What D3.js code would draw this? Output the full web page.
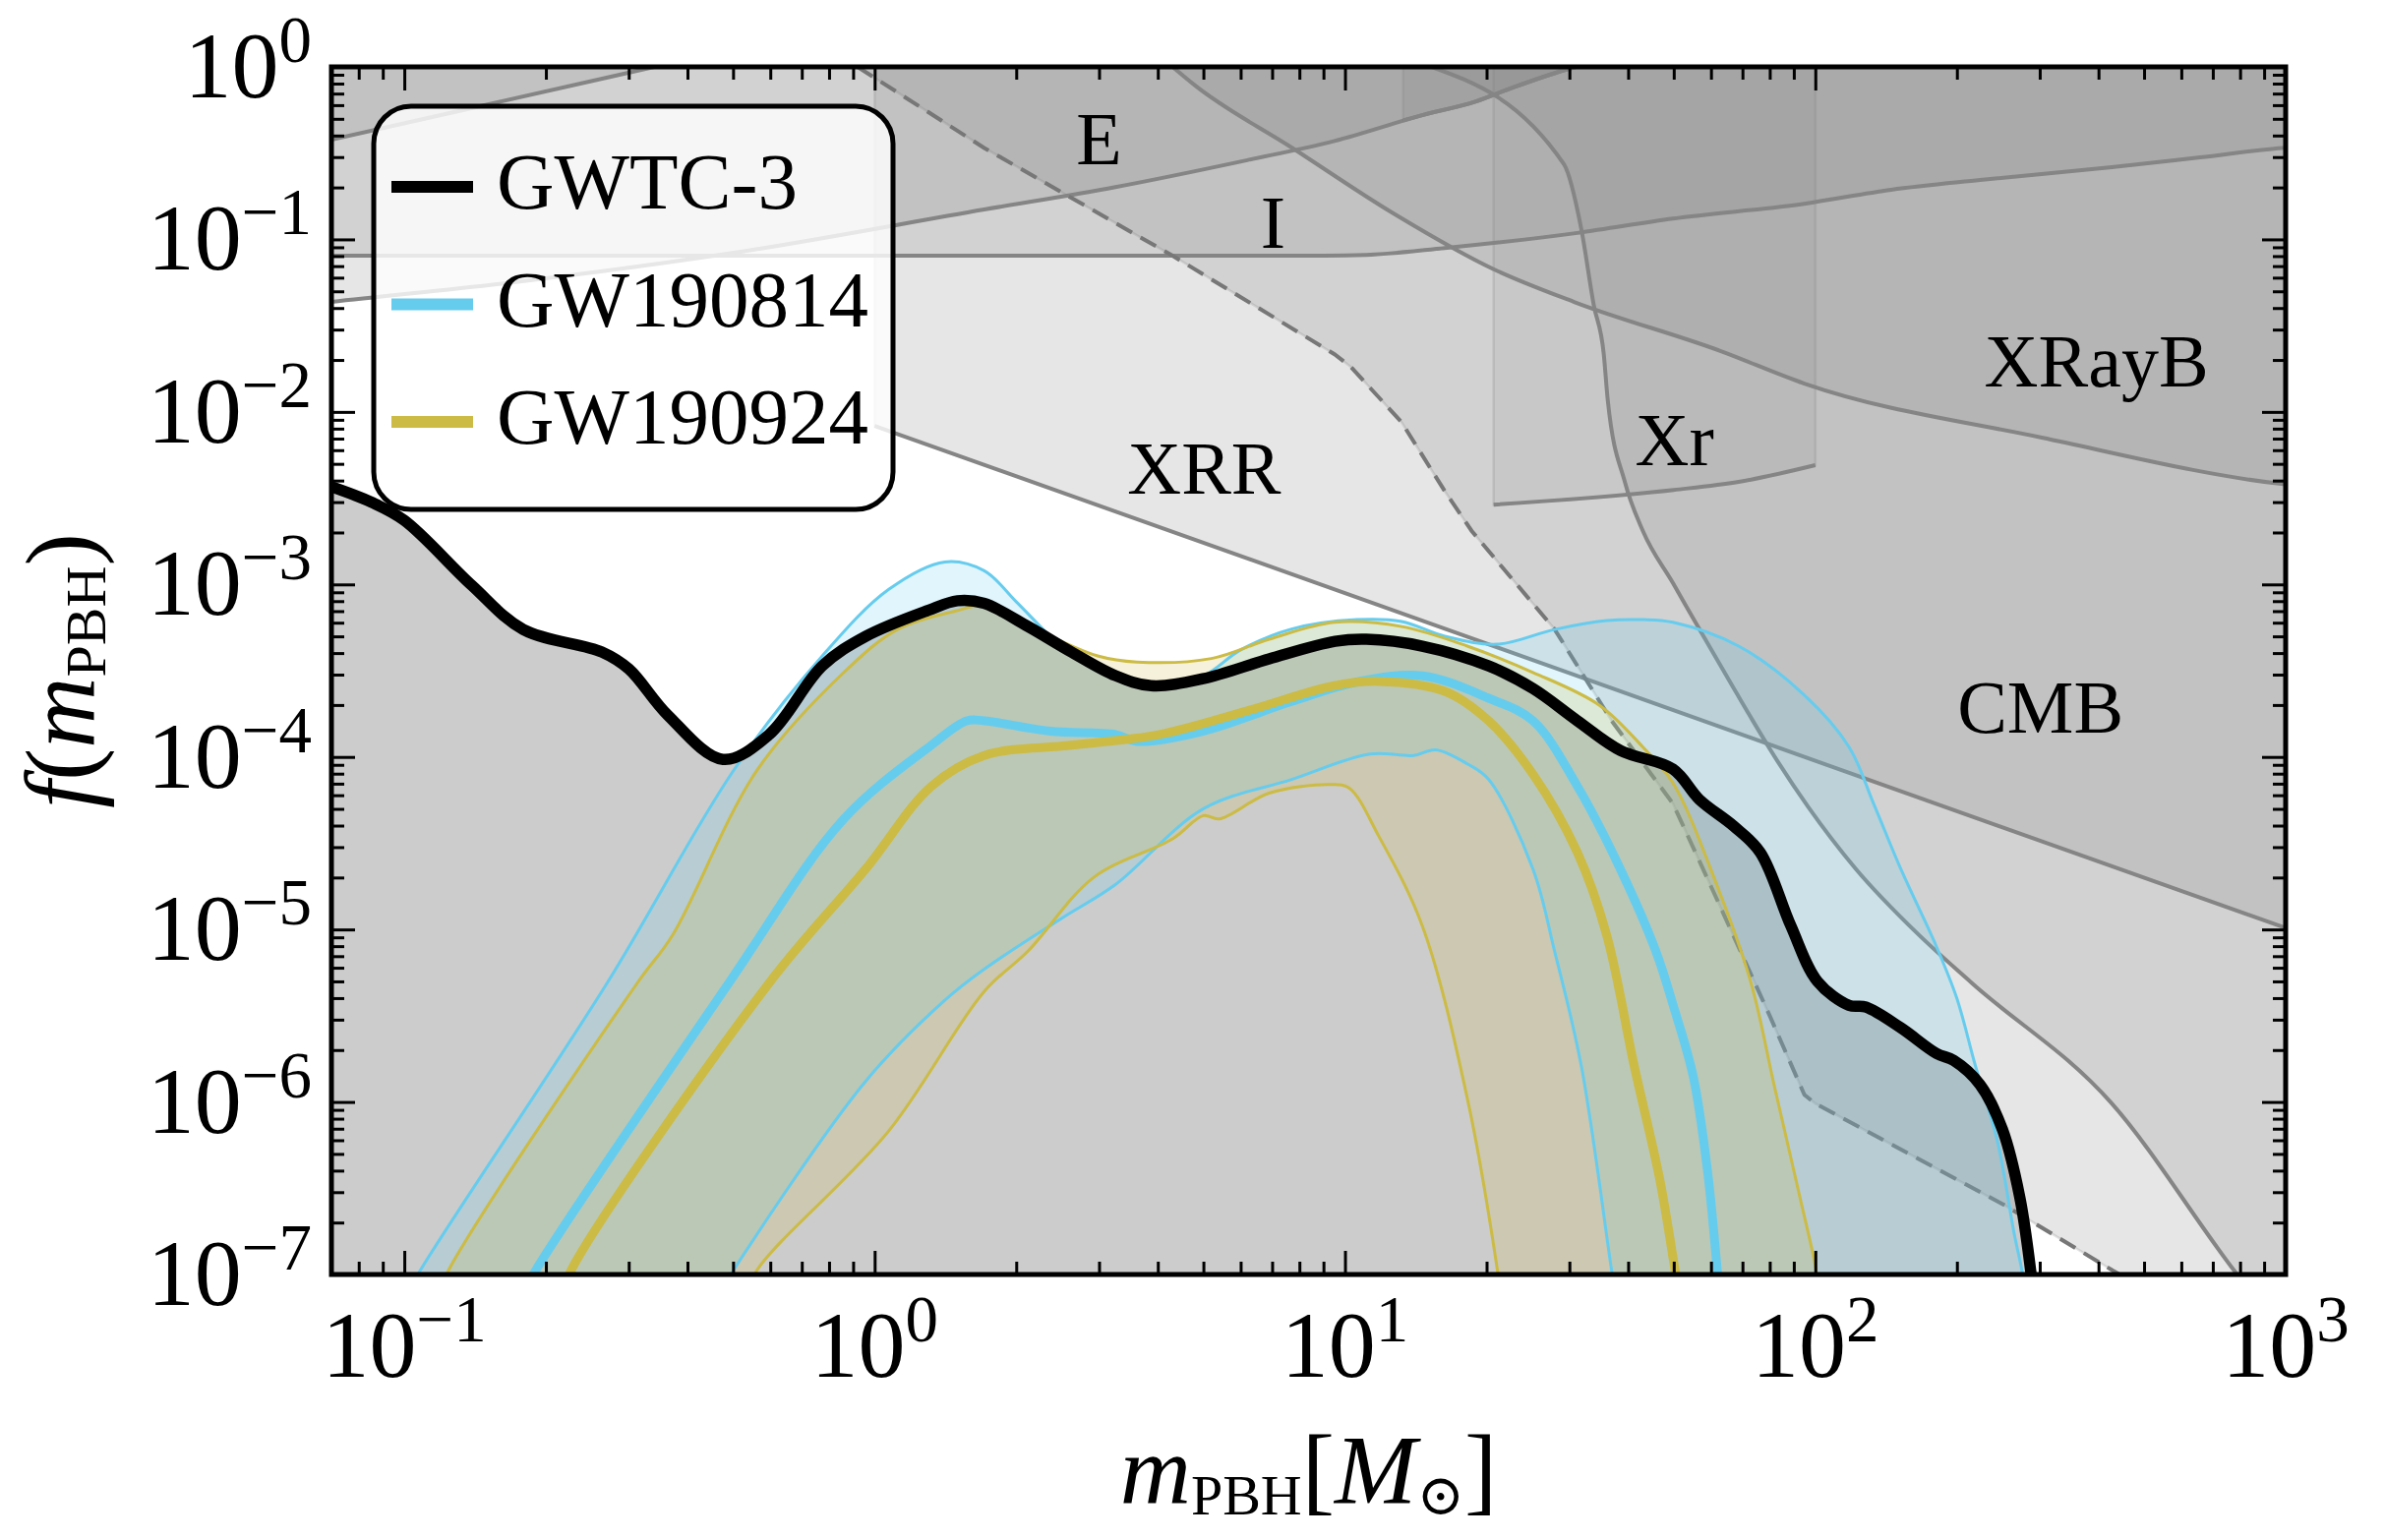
<!DOCTYPE html>
<html><head><meta charset="utf-8">
<script src="https://d3js.org/d3.v7.min.js"></script>
<style>body{margin:0;background:#fff}svg{display:block}</style>
</head><body>
<svg id="chart" width="2424" height="1566"></svg>
<script>
// ---------------- data ----------------
const xTickMajor = [0.1, 1, 10, 100, 1000];
const xTickExp = ["−1", "0", "1", "2", "3"];
const yTickMajor = [1e-7, 1e-6, 1e-5, 1e-4, 1e-3, 1e-2, 1e-1, 1];
const yTickExp = ["−7", "−6", "−5", "−4", "−3", "−2", "−1", "0"];

const legendLabels = ["GWTC-3", "GW190814", "GW190924"];

// GWTC-3 upper bound
const gwtc3M = [0.07,0.085,0.1,0.139,0.179,0.263,0.30,0.363,0.476,0.597,0.774,0.957,1.3,1.5,1.71,2.12,2.62,3.25,3.87,4.99,6.9,9.53,11.1,14.6,20.2,25.1,31.2,38.5,49.8,56.7,67,76.4,88.7,101,118,128,152,181,197,224,250,272,287,295];
const gwtc3F = [3.68e-3,3.0e-3,2.35e-3,9.9e-4,5.48e-4,4.06e-4,3.24e-4,1.75e-4,9.68e-5,1.35e-4,3.37e-4,5.0e-4,7.08e-4,8.04e-4,7.76e-4,5.70e-4,4.06e-4,2.96e-4,2.59e-4,2.84e-4,3.70e-4,4.68e-4,4.81e-4,4.39e-4,3.37e-4,2.49e-4,1.62e-4,1.09e-4,8.51e-5,5.66e-5,3.98e-5,2.79e-5,1.05e-5,5.01e-6,3.63e-6,3.55e-6,2.69e-6,1.91e-6,1.74e-6,1.26e-6,6.92e-7,2.82e-7,1.05e-7,5e-8];

// GW190814: upper, median, lower
const gw814UpM = [0.1,0.108,0.27,0.502,0.774,1.07,1.41,1.71,2.0,2.36,2.62,3.25,3.9,5.0,6.0,7.67,10.6,13.2,16.3,21.1,27.9,36,43,49.8,68.7,94.8,118,133,152,181,200,219,244,265,275,282];
const gw814UpF = [7.1e-8,1.05e-7,4.9e-6,8.4e-5,3.85e-4,9.33e-4,1.35e-3,1.2e-3,7.94e-4,5.01e-4,3.89e-4,2.82e-4,2.51e-4,2.95e-4,4.17e-4,5.5e-4,6.25e-4,6.1e-4,5.01e-4,4.5e-4,5.48e-4,6.17e-4,6.25e-4,6.03e-4,4.39e-4,2.28e-4,1.14e-4,5.37e-5,2.24e-5,7.94e-6,3.98e-6,1.62e-6,5.89e-7,1.7e-7,1.05e-7,6.3e-8];
const gw814MedM = [0.18,0.19,0.49,0.86,1.32,1.57,1.71,2.36,3.25,3.61,4.99,7.67,10.6,14.6,20.2,25.1,31.2,38.5,45.8,50,55,59,62,63];
const gw814MedF = [7.9e-8,1.05e-7,4.9e-6,4.37e-5,1.17e-4,1.62e-4,1.62e-4,1.41e-4,1.35e-4,1.23e-4,1.41e-4,2.09e-4,2.72e-4,2.95e-4,2.19e-4,1.62e-4,6.76e-5,2.24e-5,7.5e-6,3.55e-6,1.41e-6,3.98e-7,1.0e-7,6.3e-8];
const gw814LoM = [0.47,0.50,0.957,1.41,1.71,2.51,3.25,5.0,7.7,11.3,14.0,15.6,18.2,20.2,25.1,27.9,31.8,36.9,38];
const gw814LoF = [7.9e-8,1.05e-7,1.32e-6,3.89e-6,5.89e-6,1.17e-5,1.82e-5,5.01e-5,7.41e-5,1.04e-4,1.02e-4,1.1e-4,9.12e-5,7.41e-5,2.24e-5,7.5e-6,1.62e-6,1.05e-7,6.3e-8];

// GW190924: upper, median, lower
const gw924UpM = [0.115,0.124,0.313,0.372,0.561,0.86,1.12,1.48,1.71,2.36,2.98,3.61,5.2,6.9,9.5,13.2,18.2,25.1,34.7,43,49.8,61.7,73,81.7,92.7,100,103];
const gw924UpF = [6.3e-8,1.05e-7,4.9e-6,9.3e-6,8.3e-5,3.09e-4,5.5e-4,7.0e-4,7.5e-4,5.01e-4,3.85e-4,3.55e-4,3.72e-4,4.81e-4,6.03e-4,5.7e-4,4.39e-4,3.09e-4,2.0e-4,1.14e-4,7.08e-5,1.82e-5,4.9e-6,1.26e-6,2.82e-7,1.12e-7,6.3e-8];
const gw924MedM = [0.215,0.226,0.597,0.957,1.32,1.71,2.62,4.04,6.2,9.5,11.8,16.3,20.2,25.1,31.2,36,41.2,46.7,50.5,52];
const gw924MedF = [7.1e-8,1.05e-7,4.9e-6,2.24e-5,6.76e-5,1.02e-4,1.17e-4,1.35e-4,1.85e-4,2.59e-4,2.74e-4,2.4e-4,1.62e-4,7.94e-5,2.79e-5,9.3e-6,1.62e-6,3.55e-7,1.0e-7,6.3e-8];
const gw924LoM = [0.53,0.561,1.07,1.71,2.12,2.92,4.3,5.0,5.4,6.9,9.3,10.2,11.8,14.6,18.2,21.1,21.6];
const gw924LoF = [7.1e-8,1.05e-7,6.76e-7,4.37e-6,7.5e-6,2.0e-5,3.35e-5,4.57e-5,4.37e-5,6.17e-5,6.92e-5,6.61e-5,3.47e-5,1.05e-5,1.05e-6,1.05e-7,6.3e-8];

// background constraints (boundaries; excluded region lies above)
const topLeftM = [0.06,0.07,0.275,0.34];
const topLeftF = [0.344,0.378,0.877,1.0];
const erosM = [0.06,0.07,0.171,0.502,1.71,3.25,6.2,9.5,14.6,19,22.5,29.2,31];
const erosF = [0.0414,0.0434,0.0564,0.0836,0.149,0.201,0.288,0.372,0.525,0.631,0.75,0.955,1.0];
const eros2M = [13.3,14.6,19,22.5,29.2,31];
const eros2F = [0.49,0.525,0.631,0.75,0.955,1.0];
const icarusM = [0.06,5,9,11.1,16.3,31.2,49.8,94.8,145,224,427,658,1000,1100];
const icarusF = [0.0804,0.0804,0.0805,0.0813,0.0891,0.109,0.132,0.161,0.194,0.221,0.262,0.299,0.340,0.345];
const xraybM = [4.3,4.8,7.7,12.7,20.6,30.7,63,94.8,303,1000,1100];
const xraybF = [1.0,0.78,0.341,0.141,0.0676,0.0434,0.0225,0.0146,0.0071,0.0038,0.0037];
const xrrM = [1,10,100,1000,1100];
const xrrF = [8.3e-3,8.9e-4,9.5e-5,1.02e-5,9.3e-6];
const dashedM = [0.92,1.71,4.3,9.5,10.3,13.2,16.3,18.6,27.9,36.9,49.8,60,68.7,80,94.8,100,254,430,600];
const dashedF = [1.0,0.339,0.0804,0.0216,0.0182,8.7e-3,3.47e-3,2.04e-3,5.5e-4,1.62e-4,5.37e-5,1.78e-5,7.9e-6,3.16e-6,1.1e-6,9.8e-7,2.5e-7,1.05e-7,6.3e-8];
const cmbM = [15.3,29.2,31.8,33.8,35.5,36.2,39.4,43,49.8,56.7,67,83,96.6,122,166,215,427,778,900];
const cmbF = [1.0,0.273,0.115,0.0417,0.0216,0.0117,3.89e-3,2.04e-3,1.02e-3,5.5e-4,2.51e-4,9.5e-5,5.13e-5,2.24e-5,9.3e-6,4.9e-6,9.8e-7,1.05e-7,6.3e-8];
const xrM = [20.7,50,68.7,100];
const xrF = [2.9e-3,3.53e-3,3.93e-3,4.91e-3];

const regionLabels = ["E", "I", "XRR", "Xr", "XRayB", "CMB"];
const regionLabelM = [3.0, 7.03, 5.02, 50.2, 396, 301];
const regionLabelF = [0.273, 0.0893, 3.36e-3, 4.91e-3, 0.014, 1.38e-4];

// ---------------- layout ----------------
const PL = 337, PR = 2324, PT = 68, PB = 1296;
const svg = d3.select("#chart");
const x = d3.scaleLog().domain([0.07, 1000]).range([PL, PR]);
const y = d3.scaleLog().domain([1e-7, 1]).range([PB, PT]);
const SERIF = "'Liberation Serif','Times New Roman',serif";
const zip = (a, b) => a.map((v, i) => [v, b[i]]);

svg.append("rect").attr("width", 2424).attr("height", 1566).attr("fill", "#fff");
svg.append("defs").append("clipPath").attr("id", "clip")
  .append("rect").attr("x", PL).attr("y", PT).attr("width", PR - PL).attr("height", PB - PT);
const plot = svg.append("g").attr("clip-path", "url(#clip)");

const toPx = pts => pts.map(d => [x(d[0]), y(d[1])]);

// ---------------- constraint regions ----------------
const regions = [
  {m: topLeftM, f: topLeftF, curve: d3.curveLinear, close: "up"},
  {m: erosM, f: erosF, curve: d3.curveMonotoneX, close: "up"},
  {m: eros2M, f: eros2F, curve: d3.curveMonotoneX, close: "up"},
  {m: icarusM, f: icarusF, curve: d3.curveMonotoneX, close: "up"},
  {m: xraybM, f: xraybF, curve: d3.curveMonotoneX, close: "up"},
  {m: xrrM, f: xrrF, curve: d3.curveLinear, close: "up"},
  {m: dashedM, f: dashedF, curve: d3.curveLinear, close: "right", dash: "18,10"},
  {m: cmbM, f: cmbF, curve: d3.curveMonotoneX, close: "right"},
  {m: xrM, f: xrF, curve: d3.curveMonotoneX, close: "up", op: 0.12}
];
const regG = plot.append("g");
regions.forEach(r => {
  const pts = toPx(zip(r.m, r.f));
  const bound = d3.line().curve(r.curve)(pts);
  const n = r.m.length - 1;
  let close;
  if (r.close === "up") {
    close = `L${x(r.m[n])},${y(1.5)}L${x(r.m[0])},${y(1.5)}Z`;
  } else {
    close = `L${x(1200)},${y(r.f[n])}L${x(1200)},${y(1.5)}L${x(r.m[0])},${y(1.5)}Z`;
  }
  regG.append("path").attr("d", bound + close)
    .attr("fill", "#808080").attr("fill-opacity", r.op || 0.2)
    .attr("stroke", "#808080").attr("stroke-opacity", 0.22).attr("stroke-width", 2.5);
});
regions.forEach(r => {
  const pts = toPx(zip(r.m, r.f));
  regG.append("path").attr("d", d3.line().curve(r.curve)(pts))
    .attr("fill", "none").attr("stroke", r.dash ? "#777" : "#858585")
    .attr("stroke-width", 4).attr("stroke-dasharray", r.dash || null);
});

// ---------------- GWTC-3 shaded region ----------------
const cr = d3.curveCatmullRom.alpha(0.5);
const gwtc3 = zip(gwtc3M, gwtc3F);
plot.append("path")
  .attr("d", d3.area().curve(cr).x(d => x(d[0])).y0(y(1e-8)).y1(d => y(d[1]))(gwtc3))
  .attr("fill", "#808080").attr("fill-opacity", 0.4);

// ---------------- event bands ----------------
const bands = [
  {up: zip(gw814UpM, gw814UpF), med: zip(gw814MedM, gw814MedF), lo: zip(gw814LoM, gw814LoF), color: "#66ccee"},
  {up: zip(gw924UpM, gw924UpF), med: zip(gw924MedM, gw924MedF), lo: zip(gw924LoM, gw924LoF), color: "#ccbb44"}
];
const lineGen = d3.line().curve(cr);
bands.forEach(b => {
  const poly = toPx(b.up).concat(toPx(b.lo).reverse());
  plot.append("path").attr("d", lineGen(poly) + "Z")
    .attr("fill", b.color).attr("fill-opacity", 0.2).attr("stroke", "none");
});
bands.forEach(b => {
  [b.up, b.lo].forEach(s => plot.append("path").attr("d", lineGen(toPx(s)))
    .attr("fill", "none").attr("stroke", b.color).attr("stroke-width", 3));
});
bands.forEach(b => {
  plot.append("path").attr("d", lineGen(toPx(b.med)))
    .attr("fill", "none").attr("stroke", b.color).attr("stroke-width", 9);
});
plot.append("path").attr("d", lineGen(toPx(gwtc3)))
  .attr("fill", "none").attr("stroke", "#000").attr("stroke-width", 11.5).attr("stroke-linejoin", "round");

// ---------------- region labels ----------------
regionLabels.forEach((t, i) => {
  svg.append("text").attr("x", x(regionLabelM[i])).attr("y", y(regionLabelF[i]))
    .attr("text-anchor", "middle").attr("font-family", SERIF).attr("font-size", 76)
    .attr("fill", "#000").text(t);
});

// ---------------- legend ----------------
const leg = svg.append("g");
leg.append("rect").attr("x", 380).attr("y", 108).attr("width", 528).attr("height", 410)
  .attr("rx", 38).attr("ry", 38).attr("fill", "#fff").attr("fill-opacity", 0.8)
  .attr("stroke", "#000").attr("stroke-width", 5);
const legColors = ["#000", "#66ccee", "#ccbb44"];
legendLabels.forEach((t, i) => {
  const yy = 190 + i * 119.5;
  leg.append("line").attr("x1", 398).attr("x2", 481).attr("y1", yy).attr("y2", yy)
    .attr("stroke", legColors[i]).attr("stroke-width", 12);
  leg.append("text").attr("x", 505).attr("y", yy + 22).attr("font-family", SERIF)
    .attr("font-size", 81).attr("fill", "#000").text(t);
});

// ---------------- axes ----------------
function minors(lo, hi, n0, n1) {
  const out = [];
  for (let n = n0; n <= n1; n++) for (let k = 2; k <= 9; k++) {
    const v = k * Math.pow(10, n);
    if (v > lo * 1.0001 && v < hi * 0.9999) out.push(v);
  }
  return out;
}
const xMinor = minors(0.07, 1000, -2, 2);
const yMinor = minors(1e-7, 1, -8, -1);
const axG = svg.append("g");
function drawAxis(axisFn, scale, vals, size, tx, ty) {
  const g = axG.append("g").attr("transform", `translate(${tx},${ty})`)
    .call(axisFn(scale).tickValues(vals).tickSize(-size).tickSizeOuter(0).tickFormat(""));
  g.select(".domain").remove();
  g.selectAll(".tick line").attr("stroke", "#000").attr("stroke-width", 3);
}
[[xTickMajor, 24], [xMinor, 13]].forEach(([v, s]) => {
  drawAxis(d3.axisBottom, x, v, s, 0, PB);
  drawAxis(d3.axisTop, x, v, s, 0, PT);
});
[[yTickMajor, 24], [yMinor, 13]].forEach(([v, s]) => {
  drawAxis(d3.axisLeft, y, v, s, PL, 0);
  drawAxis(d3.axisRight, y, v, s, PR, 0);
});
axG.append("rect").attr("x", PL).attr("y", PT).attr("width", PR - PL).attr("height", PB - PT)
  .attr("fill", "none").attr("stroke", "#000").attr("stroke-width", 5);

// tick labels
xTickMajor.forEach((v, i) => {
  const t = svg.append("text").attr("x", x(v)).attr("y", 1400).attr("text-anchor", "middle")
    .attr("font-family", SERIF).attr("font-size", 96).attr("fill", "#000");
  t.append("tspan").text("10");
  t.append("tspan").attr("font-size", 67).attr("dy", -36).text(xTickExp[i]);
});
yTickMajor.forEach((v, i) => {
  const t = svg.append("text").attr("x", PL - 20).attr("y", y(v) + 31).attr("text-anchor", "end")
    .attr("font-family", SERIF).attr("font-size", 96).attr("fill", "#000");
  t.append("tspan").text("10");
  t.append("tspan").attr("font-size", 67).attr("dy", -36).text(yTickExp[i]);
});

// axis titles
const xl = svg.append("text").attr("x", (PL + PR) / 2).attr("y", 1528).attr("text-anchor", "middle")
  .attr("font-family", SERIF).attr("font-size", 100).attr("fill", "#000");
xl.append("tspan").attr("font-style", "italic").text("m");
xl.append("tspan").attr("font-size", 58).attr("dy", 12).text("PBH");
xl.append("tspan").attr("dy", -12).text("[");
xl.append("tspan").attr("font-style", "italic").text("M");
xl.append("tspan").attr("font-size", 58).attr("dy", 12).attr("font-family", "'DejaVu Serif',serif").text("⊙");
xl.append("tspan").attr("dy", -12).text("]");

const yl = svg.append("text").attr("transform", `translate(95,${(PT + PB) / 2}) rotate(-90)`)
  .attr("text-anchor", "middle").attr("font-family", SERIF).attr("font-size", 100).attr("fill", "#000");
yl.append("tspan").attr("font-style", "italic").text("f");
yl.append("tspan").text("(");
yl.append("tspan").attr("font-style", "italic").text("m");
yl.append("tspan").attr("font-size", 58).attr("dy", 12).text("PBH");
yl.append("tspan").attr("dy", -12).text(")");
</script>
</body></html>
